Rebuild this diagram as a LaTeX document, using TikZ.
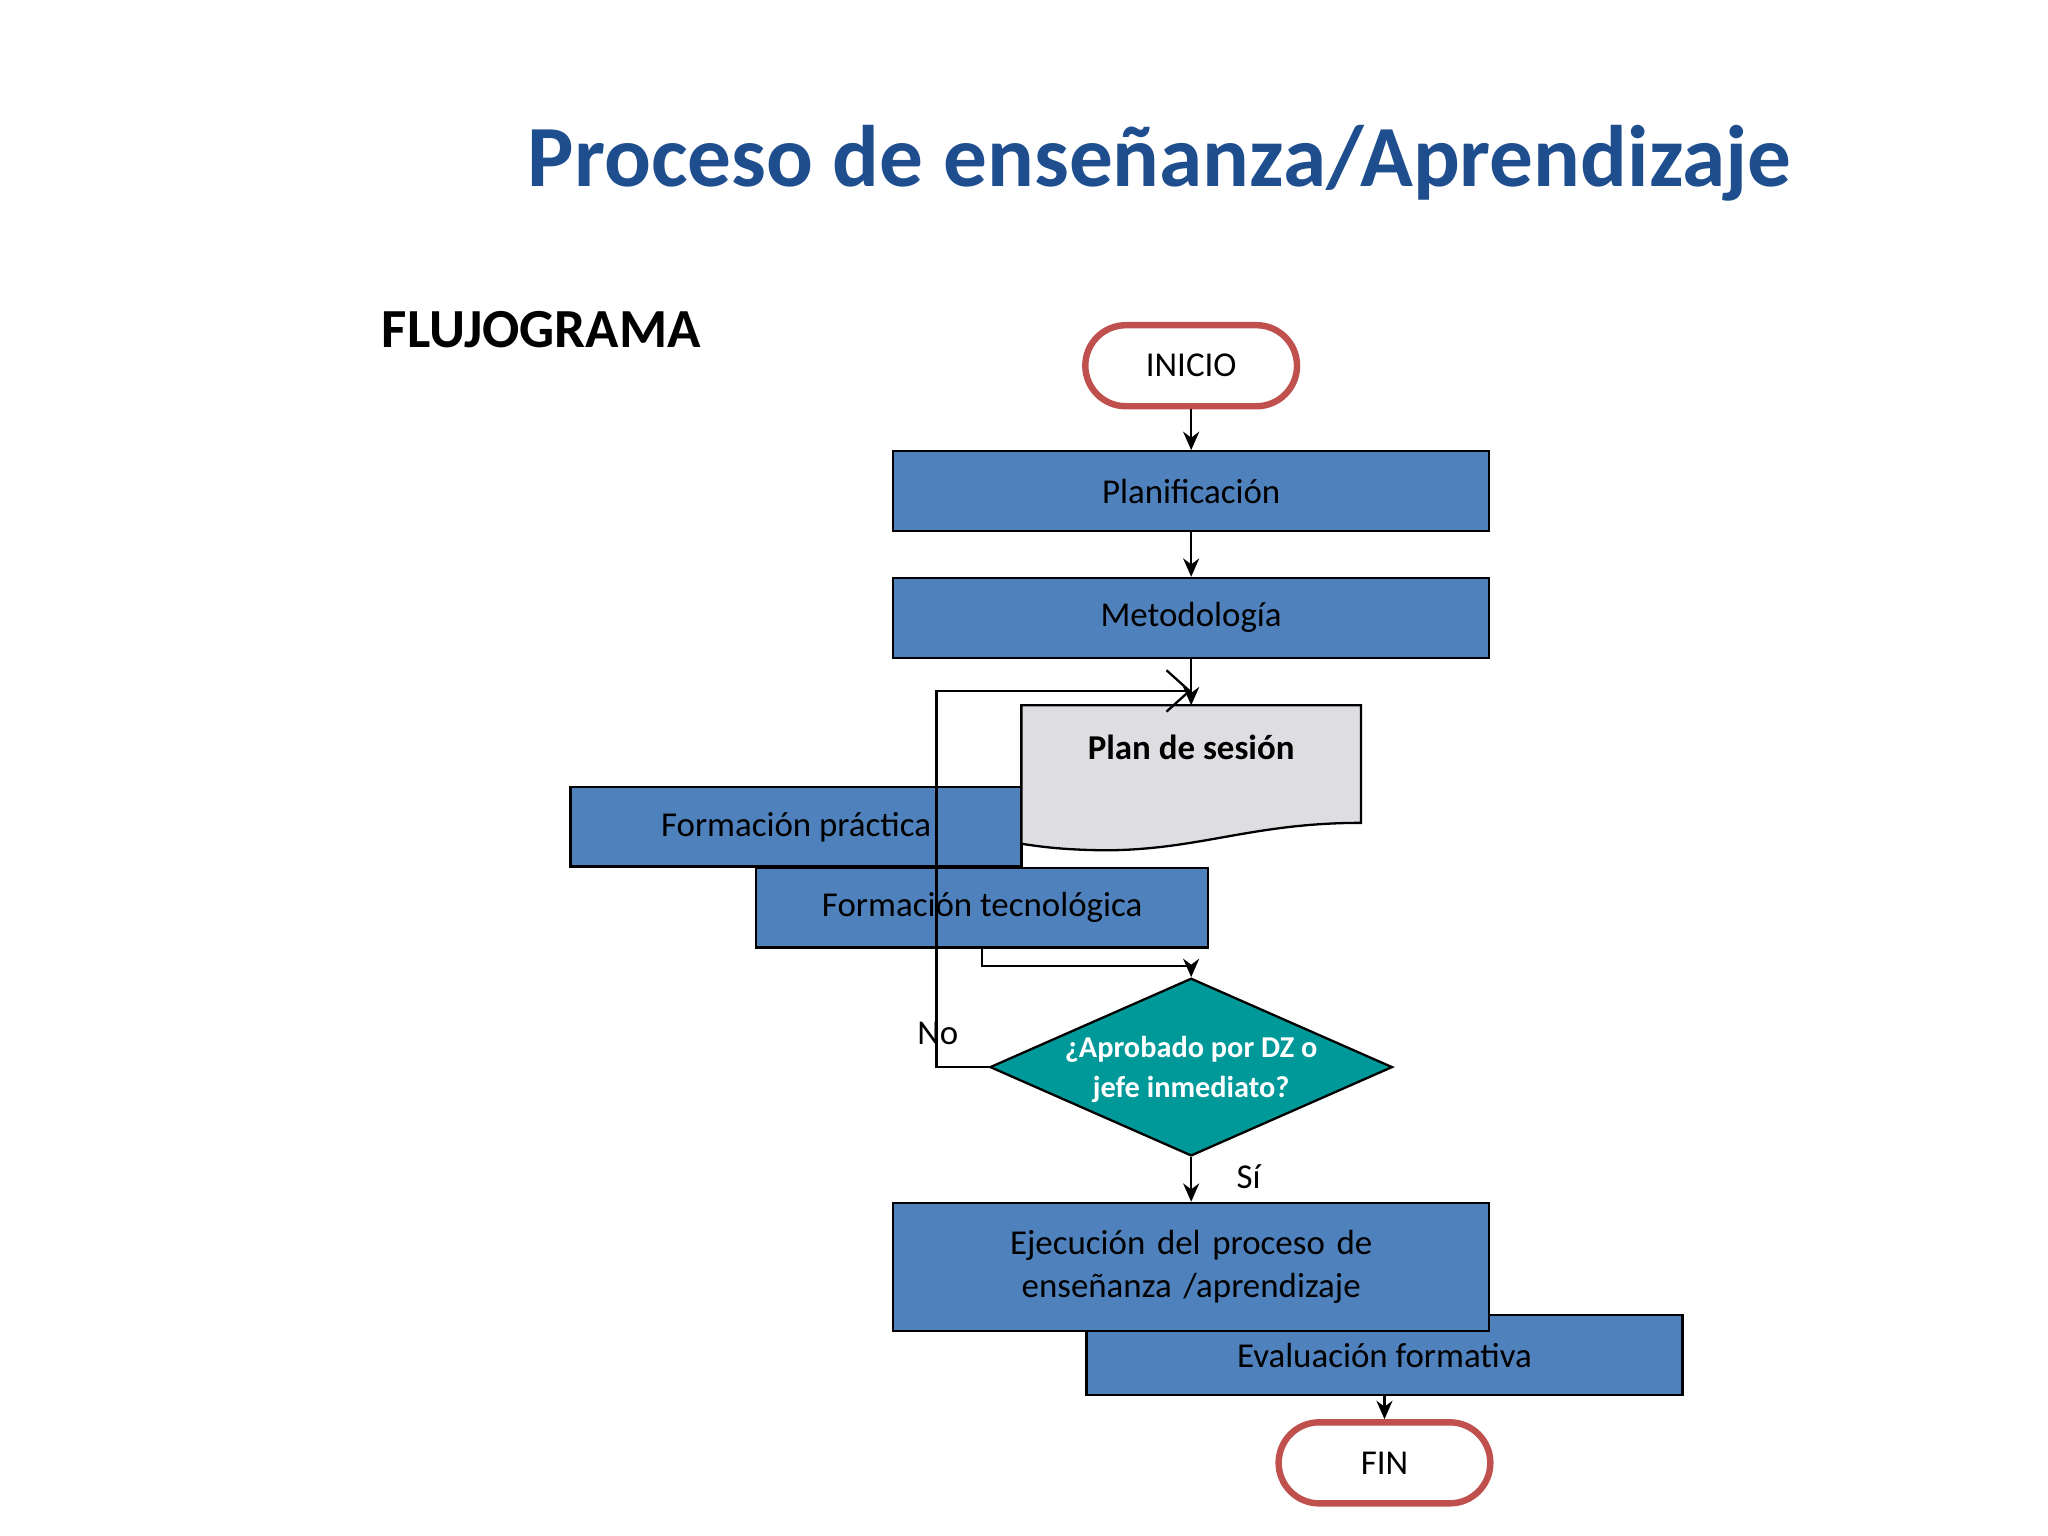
\documentclass[tikz,border=0pt]{standalone}
\usepackage{fontspec}
\setmainfont{Carlito}
\usetikzlibrary{shapes.geometric,arrows.meta}
\definecolor{tblue}{HTML}{1F4E8F}
\definecolor{bfill}{HTML}{4F81BD}
\definecolor{rborder}{HTML}{C0504D}
\definecolor{teal}{HTML}{009999}
\definecolor{docgray}{HTML}{DEDDE1}
\begin{document}
\begin{tikzpicture}[x=0.01cm,y=-0.01cm,
  box/.style={draw=black,fill=bfill,line width=0.5pt,inner sep=0pt,font=\fontsize{7.6}{9.2}\selectfont,align=center},
  term/.style={draw=rborder,fill=white,line width=1.4pt,rounded corners=0.31cm,minimum width=1.62cm,minimum height=0.62cm,inner sep=0pt,font=\fontsize{7.6}{9}\selectfont},
  con/.style={draw=black,line width=0.5pt,-{Stealth[length=4pt,width=3.5pt]}}]
\useasboundingbox (0,0) rectangle (1568,1176);
\fill[white] (0,0) rectangle (1568,1176);
\node[font=\fontsize{19}{22}\selectfont\bfseries,text=tblue] (title) at (888,125) {Proceso de enseñanza/Aprendizaje};
\node[font=\fontsize{12}{14}\selectfont\bfseries,anchor=west] (flu) at (280,252) {FLUJOGRAMA};
\node[term] (ini) at (912,280) {INICIO};
\node[box,minimum width=4.56cm,minimum height=0.61cm] (plan) at (912,376) {Planificación};
\node[box,minimum width=4.56cm,minimum height=0.61cm] (met) at (912,473) {Metodología};
\node[box,minimum width=3.45cm,minimum height=0.61cm] (fp) at (609.5,633) {Formación práctica};
\node[box,minimum width=3.46cm,minimum height=0.61cm] (ft) at (752,695) {Formación tecnológica};
% document shape
\draw[fill=docgray,line width=0.5pt] (782,540) -- (1042,540) -- (1042,630) .. controls (960,630) and (920,650) .. (850,651) .. controls (815,651) and (795,648) .. (782,646) -- cycle;
\node[font=\fontsize{7.6}{9}\selectfont\bfseries] (ps) at (912,572) {Plan de sesión};
\coordinate (pstop) at (912,540);
\node[diamond,draw=black,fill=teal,line width=0.5pt,minimum width=3.08cm,minimum height=1.36cm,aspect=2.26,inner sep=0pt] (dia) at (912,817) {};
\node[text=white,font=\fontsize{6.6}{8.8}\selectfont\bfseries,align=center] (dtx) at (912,819) {¿Aprobado por DZ o\\jefe inmediato?};
\node[box,minimum width=4.56cm,minimum height=0.61cm] (eva) at (1060,1037.5) {Evaluación formativa};
\node[box,minimum width=4.56cm,minimum height=0.98cm,text width=4.4cm] (eje) at (912,970) {Ejecución del proceso de\\enseñanza /aprendizaje};
\node[term] (fin) at (1060,1120) {FIN};
% connectors
\draw[con] (ini) -- (plan);
\draw[con] (plan) -- (met);
\draw[con] (met) -- (pstop);
\draw[con] (ft.south) -- ++(0,13) -| (dia.north);
\draw[con] (dia) -- (eje);
\draw[con] (eva) -- (fin);
\draw[line width=0.5pt,-{Straight Barb[length=5pt,width=9pt]}] (dia.west) -- (717,817) -- (717,529) -- (912,529);
\node[font=\fontsize{7.6}{9}\selectfont] (no) at (718,791) {No};
\node[font=\fontsize{7.6}{9}\selectfont] (si) at (956,901) {Sí};
\end{tikzpicture}
\end{document}
